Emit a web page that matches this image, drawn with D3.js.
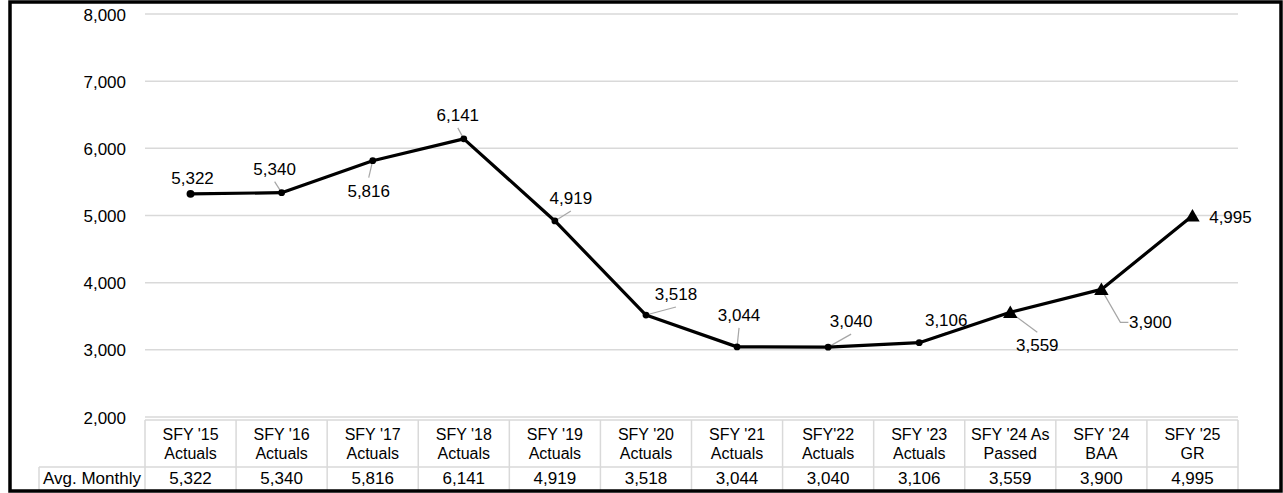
<!DOCTYPE html>
<html>
<head>
<meta charset="utf-8">
<script src="https://cdn.jsdelivr.net/npm/d3@7"></script>
<style>
  html, body { margin: 0; padding: 0; background: #fff; }
  svg { display: block; font-family: "Liberation Sans", Arial, sans-serif; }
</style>
</head>
<body>
<svg id="chart" width="1283" height="493"></svg>
<script>
// Fiscal years shown along the bottom
const categories = [
  "SFY '15\nActuals", "SFY '16\nActuals", "SFY '17\nActuals", "SFY '18\nActuals",
  "SFY '19\nActuals", "SFY '20\nActuals", "SFY '21\nActuals", "SFY'22\nActuals",
  "SFY '23\nActuals", "SFY '24 As\nPassed", "SFY '24\nBAA", "SFY '25\nGR"
];
// Average monthly caseload
const avgMonthly = [5322, 5340, 5816, 6141, 4919, 3518, 3044, 3040, 3106, 3559, 3900, 4995];
// Years that are projections rather than actuals (drawn with triangles)
const projected = [false, false, false, false, false, false, false, false, false, true, true, true];
const yTicks = [2000, 3000, 4000, 5000, 6000, 7000, 8000];
const rowLabel = "Avg. Monthly";

// Label placement (pixel offsets from each point) and leader style
const labelOffsets = [
  [2, -16], [-7, -24], [-4, 30], [-6, -24], [16, -23], [30, -21],
  [2, -32], [23, -26], [27, -23], [27, 33], [49, 33], [38, 1]
];
const leaderKind = ["none", "v", "v", "v", "v", "v", "v", "v", "v", "v", "elbow", "none"];

const svg = d3.select("#chart");
const fmt = d3.format(",");

const left = 145, right = 1238;
const x = d3.scaleBand().domain(d3.range(categories.length)).range([left, right]).padding(0);
const y = d3.scaleLinear().domain([2000, 8000]).range([417, 14]);
const cx = i => x(i) + x.bandwidth() / 2;

// Horizontal gridlines
svg.append("g").selectAll("line").data(yTicks).join("line")
  .attr("x1", left).attr("x2", right)
  .attr("y1", d => y(d)).attr("y2", d => y(d))
  .attr("stroke", "#d9d9d9").attr("stroke-width", 1.5);

// Y axis labels
const yAxis = d3.axisLeft(y).tickValues(yTicks).tickFormat(fmt).tickSize(0).tickPadding(0);
const yg = svg.append("g").attr("transform", "translate(126,0)").call(yAxis);
yg.select(".domain").remove();
yg.selectAll("text")
  .attr("font-size", 17).attr("fill", "#000")
  .attr("font-family", "'Liberation Sans', Arial, sans-serif")
  .attr("dy", "0.36em");

// Data table under the plot
const tableTop = 420, rowSplit = 467, tableBottom = 491;
const tg = svg.append("g").attr("stroke", "#d9d9d9").attr("stroke-width", 1.5);
tg.append("line").attr("x1", left).attr("x2", right).attr("y1", tableTop).attr("y2", tableTop);
tg.append("line").attr("x1", 39).attr("x2", right).attr("y1", rowSplit).attr("y2", rowSplit);
tg.append("line").attr("x1", 39).attr("x2", 39).attr("y1", rowSplit).attr("y2", tableBottom);
tg.selectAll("line.col").data(d3.range(categories.length + 1)).join("line")
  .attr("class", "col")
  .attr("x1", i => left + i * x.bandwidth()).attr("x2", i => left + i * x.bandwidth())
  .attr("y1", tableTop).attr("y2", tableBottom);

const header = svg.append("g").attr("font-size", 16).attr("text-anchor", "middle").attr("fill", "#000");
categories.forEach((c, i) => {
  const lines = c.split("\n");
  const t = header.append("text").attr("x", cx(i)).attr("y", 440);
  lines.forEach((ln, k) => {
    t.append("tspan").attr("x", cx(i)).attr("dy", k === 0 ? 0 : 19).text(ln);
  });
});
svg.append("g").attr("font-size", 17).attr("text-anchor", "middle").attr("fill", "#000")
  .selectAll("text").data(avgMonthly).join("text")
  .attr("x", (d, i) => cx(i)).attr("y", 484).text(d => fmt(d));
svg.append("text").attr("x", 92).attr("y", 484).attr("text-anchor", "middle")
  .attr("font-size", 17).attr("fill", "#000").text(rowLabel);

// Leader lines between labels and points
const lg = svg.append("g").attr("stroke", "#a6a6a6").attr("stroke-width", 1.2).attr("fill", "none");
avgMonthly.forEach((v, i) => {
  const px = cx(i), py = y(v);
  const [dx, dy] = labelOffsets[i];
  const lx = px + dx, ly = py + dy;
  if (leaderKind[i] === "v") {
    const ey = dy < 0 ? ly + 13 : ly - 13;
    lg.append("line").attr("x1", px).attr("y1", py).attr("x2", lx).attr("y2", ey);
  } else if (leaderKind[i] === "elbow") {
    const edge = lx - 22;
    lg.append("polyline")
      .attr("points", [[px, py], [edge - 8, ly], [edge, ly]].map(p => p.join(",")).join(" "));
  }
});

// The series line
svg.append("path")
  .datum(avgMonthly)
  .attr("fill", "none").attr("stroke", "#000").attr("stroke-width", 3.2)
  .attr("stroke-linejoin", "round")
  .attr("d", d3.line().x((d, i) => cx(i)).y(d => y(d)));

// Markers: circles for actuals, triangles for projections
svg.append("g").selectAll("path").data(avgMonthly).join("path")
  .attr("transform", (d, i) => `translate(${cx(i)},${y(d) + (projected[i] ? 1.5 : 0)})`)
  .attr("d", (d, i) => projected[i]
    ? d3.symbol(d3.symbolTriangle, 90)()
    : d3.symbol(d3.symbolCircle, i === 0 ? 50 : 36)())
  .attr("fill", "#000");

// Data labels
svg.append("g").attr("font-size", 17).attr("text-anchor", "middle").attr("fill", "#000")
  .selectAll("text").data(avgMonthly).join("text")
  .attr("x", (d, i) => cx(i) + labelOffsets[i][0])
  .attr("y", (d, i) => y(d) + labelOffsets[i][1] + 6)
  .text(d => fmt(d));

// Outer frame
svg.append("rect").attr("x", 10).attr("y", 2).attr("width", 1271).attr("height", 489)
  .attr("fill", "none").attr("stroke", "#000").attr("stroke-width", 3.5);
</script>
</body>
</html>
